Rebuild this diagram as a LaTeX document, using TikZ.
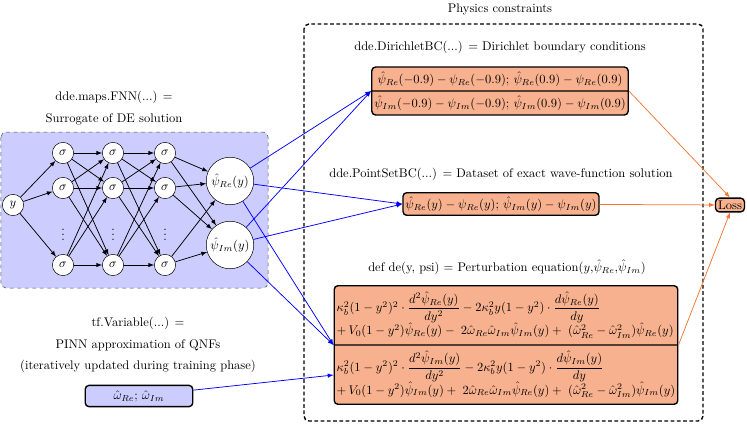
\documentclass[tikz,border=0pt]{standalone}
\usepackage{amsmath}
\usetikzlibrary{shapes.multipart,calc}
\definecolor{salmon}{RGB}{247,177,142}
\definecolor{lossline}{RGB}{245,120,50}
\begin{document}
\begin{tikzpicture}[x=0.8pt,y=-0.8pt,
  neuron/.style={draw, circle, fill=white, minimum size=17pt, inner sep=0pt},
  outneuron/.style={draw, circle, fill=white, minimum size=38pt, inner sep=0pt},
  eqbox/.style={draw, line width=1.1pt, rounded corners=3pt, fill=salmon, inner xsep=2pt, inner ysep=3pt},
  conn/.style={draw, semithick, -latex},
  feed/.style={draw, semithick, blue, -latex},
  lossarrow/.style={draw, semithick, lossline, -latex}]
\useasboundingbox (0,0) rectangle (747,423);
% frames
\draw[dashed, gray!60!black, fill=blue!20, rounded corners=4pt] (1,132) rectangle (268,288);
\draw[line width=1.1pt, dash pattern=on 3pt off 2pt, rounded corners=4pt] (304,24) rectangle (703,421);
% labels
\node (fnnlabel) at (114,108) [align=center] {dde.maps.FNN(...) $=$\\[5pt] Surrogate of DE solution};
\node (tflabel) at (138,345) [align=center] {tf.Variable(...) $=$\\[5pt] PINN approximation of QNFs\\[5pt] (iteratively updated during training phase)};
\node (physlabel) at (500,9) {Physics constraints};
\node (dbclabel) at (500,47) {dde.DirichletBC(...) $=$ Dirichlet boundary conditions};
\node (pslabel) at (501,174) {dde.PointSetBC(...) $=$ Dataset of exact wave-function solution};
\node (delabel) at (507,267) {def de(y, psi) $=$ Perturbation equation($y$,$\hat{\psi}_{Re}$,$\hat{\psi}_{Im}$)};
% network
\node[neuron] (y) at (13,205) {$y$};
\node[neuron] (a1) at (63,153) {$\sigma$};
\node[neuron] (a2) at (63,188) {$\sigma$};
\node (a3) at (63,231) {$\vdots$};
\node[neuron] (a4) at (63,265) {$\sigma$};
\node[neuron] (b1) at (113,153) {$\sigma$};
\node[neuron] (b2) at (113,188) {$\sigma$};
\node (b3) at (113,231) {$\vdots$};
\node[neuron] (b4) at (113,265) {$\sigma$};
\node[neuron] (c1) at (165,153) {$\sigma$};
\node[neuron] (c2) at (165,188) {$\sigma$};
\node (c3) at (165,231) {$\vdots$};
\node[neuron] (c4) at (165,265) {$\sigma$};
\node[outneuron] (re) at (230,181) {$\hat{\psi}_{Re}(y)$};
\node[outneuron] (im) at (230,245) {$\hat{\psi}_{Im}(y)$};
\path[conn] (y) -- (a1);
\path[conn] (y) -- (a2);
\path[conn] (y) -- (a4);
\path[conn] (a1) -- (b1);
\path[conn] (a1) -- (b2);
\path[conn] (a1) -- (b4);
\path[conn] (a2) -- (b1);
\path[conn] (a2) -- (b2);
\path[conn] (a2) -- (b4);
\path[conn] (a4) -- (b1);
\path[conn] (a4) -- (b2);
\path[conn] (a4) -- (b4);
\path[conn] (b1) -- (c1);
\path[conn] (b1) -- (c2);
\path[conn] (b1) -- (c4);
\path[conn] (b2) -- (c1);
\path[conn] (b2) -- (c2);
\path[conn] (b2) -- (c4);
\path[conn] (b4) -- (c1);
\path[conn] (b4) -- (c2);
\path[conn] (b4) -- (c4);
\path[conn] (c1) -- (re);
\path[conn] (c1) -- (im);
\path[conn] (c2) -- (re);
\path[conn] (c2) -- (im);
\path[conn] (c4) -- (re);
\path[conn] (c4) -- (im);
% constraint boxes
\node[eqbox, rectangle split, rectangle split parts=2] (dbc) at (500,91)
  {$\hat{\psi}_{Re}(-0.9)-\psi_{Re}(-0.9);\,\hat{\psi}_{Re}(0.9)-\psi_{Re}(0.9)$
   \nodepart{two}$\hat{\psi}_{Im}(-0.9)-\psi_{Im}(-0.9);\,\hat{\psi}_{Im}(0.9)-\psi_{Im}(0.9)$};
\node[eqbox] (psbc) at (501,204)
  {$\hat{\psi}_{Re}(y)-\psi_{Re}(y);\,\hat{\psi}_{Im}(y)-\psi_{Im}(y)$};
\node[eqbox, inner ysep=4pt, rectangle split, rectangle split parts=2, rectangle split part align=left] (pde) at (506,345)
  {$\begin{array}{@{}l@{}}
    \kappa_b^2(1-y^2)^2\cdot\dfrac{d^2\hat{\psi}_{Re}(y)}{dy^2}-2\kappa_b^2y(1-y^2)\cdot\dfrac{d\hat{\psi}_{Re}(y)}{dy}\\[1pt]
    +\,V_0(1-y^2)\hat{\psi}_{Re}(y)-\;2\hat{\omega}_{Re}\hat{\omega}_{Im}\hat{\psi}_{Im}(y)+\;(\hat{\omega}_{Re}^2-\hat{\omega}_{Im}^2)\hat{\psi}_{Re}(y)
   \end{array}$
   \nodepart{two}$\begin{array}{@{}l@{}}
    \kappa_b^2(1-y^2)^2\cdot\dfrac{d^2\hat{\psi}_{Im}(y)}{dy^2}-2\kappa_b^2y(1-y^2)\cdot\dfrac{d\hat{\psi}_{Im}(y)}{dy}\\[1pt]
    +\,V_0(1-y^2)\hat{\psi}_{Im}(y)+\;2\hat{\omega}_{Re}\hat{\omega}_{Im}\hat{\psi}_{Re}(y)+\;(\hat{\omega}_{Re}^2-\hat{\omega}_{Im}^2)\hat{\psi}_{Im}(y)
   \end{array}$};
\node[draw, line width=1.1pt, rounded corners=3pt, fill=blue!20, minimum width=86pt, minimum height=17pt] (omega) at (139,396) {$\hat{\omega}_{Re};\,\hat{\omega}_{Im}$};
\node[eqbox, inner sep=2pt] (loss) at (730,205) {Loss};
\coordinate (pdeim) at ($(pde.text split west)!0.5!(pde.south west)$);
% connectors
\path[feed] (re) -- (dbc.text split west);
\path[feed] (im) -- (dbc.text split west);
\path[feed] (re) -- (psbc.west);
\path[feed] (im) -- (psbc.west);
\path[feed] (re) -- (pde.text split west);
\path[feed] (im) -- (pde.text split west);
\path[feed] (omega) -- (pdeim);
\path[lossarrow] (dbc.text split east) -- (loss.north);
\path[lossarrow] (psbc) -- (loss);
\path[lossarrow] (pde.text split east) -- (loss.south);
\end{tikzpicture}
\end{document}
